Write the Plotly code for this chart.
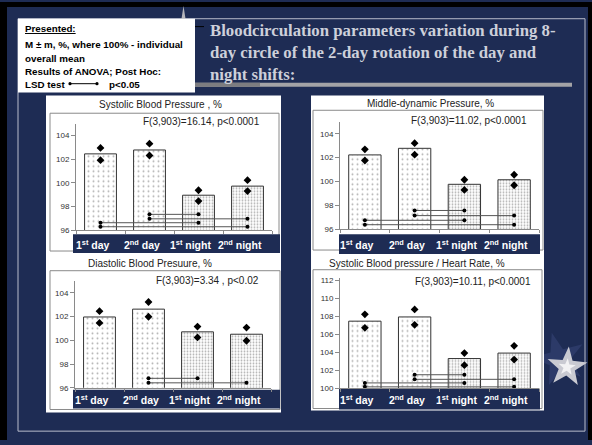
import math
import plotly.graph_objects as go

W, H = 592, 445


def px(x):
    return x / W


def py(y):
    return 1 - y / H


categories = ["1st day", "2nd day", "1st night", "2nd night"]
cat_labels = ["1<sup>st</sup> day", "2<sup>nd</sup> day", "1<sup>st</sup> night", "2<sup>nd</sup> night"]

# Systolic Blood Pressure, %
sbp_mean = [102.45, 102.78, 98.95, 99.72]
sbp_hi = [102.95, 103.31, 99.37, 100.22]
sbp_lo = [101.92, 102.31, 98.45, 99.30]
sbp_sig_from = [1, 1, 0, 0]
sbp_sig_to = [2, 3, 2, 3]
sbp_sig_level = [97.33, 96.95, 96.62, 96.28]

# Middle-dynamic Pressure, %
mdp_mean = [102.23, 102.78, 99.77, 100.15]
mdp_hi = [102.70, 103.21, 100.15, 100.57]
mdp_lo = [101.76, 102.25, 99.30, 99.69]
mdp_sig_from = [1, 1, 0, 0]
mdp_sig_to = [2, 3, 2, 3]
mdp_sig_level = [97.58, 97.15, 96.76, 96.39]

# Diastolic Blood Pressure, %
dbp_mean = [101.96, 102.62, 100.71, 100.51]
dbp_hi = [102.45, 103.22, 101.15, 101.07]
dbp_lo = [101.46, 101.98, 100.24, 99.96]
dbp_sig_from = [1, 1]
dbp_sig_to = [2, 3]
dbp_sig_level = [96.80, 96.42]

# Systolic Blood pressure / Heart Rate, %
shr_mean = [107.45, 107.92, 103.29, 103.90]
shr_hi = [108.21, 108.76, 103.90, 104.71]
shr_lo = [106.71, 107.04, 102.55, 103.18]
shr_sig_from = [1, 1, 0, 0]
shr_sig_to = [2, 3, 2, 3]
shr_sig_level = [101.49, 100.98, 100.58, 100.14]

panels = [
    dict(title="Systolic Blood Pressure , %", ftext="F(3,903)=16.14, p<0.0001",
         mean=sbp_mean, hi=sbp_hi, lo=sbp_lo,
         sf=sbp_sig_from, st=sbp_sig_to, sl=sbp_sig_level,
         rng=[96, 105], ticks=[96, 98, 100, 102, 104],
         plot=(76, 123.7, 272, 231.7), title_xy=(160, 104), f_xy=(262, 121),
         frame=(50, 113, 279, 253), band=(73, 236, 280, 255), label_y=246),
    dict(title="Middle-dynamic Pressure, %", ftext="F(3,903)=11.02, p<0.0001",
         mean=mdp_mean, hi=mdp_hi, lo=mdp_lo,
         sf=mdp_sig_from, st=mdp_sig_to, sl=mdp_sig_level,
         rng=[96, 105], ticks=[96, 98, 100, 102, 104],
         plot=(340, 121.7, 539, 231), title_xy=(430, 103), f_xy=(529, 120),
         frame=(313, 110, 543, 252), band=(339, 236, 540, 256), label_y=246),
    dict(title="Diastolic Blood Presuure, %", ftext="F(3,903)=3.34 , p<0.02",
         mean=dbp_mean, hi=dbp_hi, lo=dbp_lo,
         sf=dbp_sig_from, st=dbp_sig_to, sl=dbp_sig_level,
         rng=[96, 105], ticks=[96, 98, 100, 102, 104],
         plot=(75, 283.3, 271, 392), title_xy=(150, 266), f_xy=(261, 283),
         frame=(50, 273, 280, 414), band=(73, 394, 280, 413), label_y=404),
    dict(title="Systolic Blood pressure / Heart Rate, %", ftext="F(3,903)=10.11, p<0.0001",
         mean=shr_mean, hi=shr_hi, lo=shr_lo,
         sf=shr_sig_from, st=shr_sig_to, sl=shr_sig_level,
         rng=[100, 112.2], ticks=[100, 102, 104, 106, 108, 110, 112],
         plot=(340, 280.9, 539, 392.3), title_xy=(417, 266), f_xy=(533, 284),
         frame=(313, 272, 542, 413), band=(339, 393, 540, 414), label_y=404),
]

NAVY = "#1e2c54"
FONT = "Liberation Sans"

fig = go.Figure()
shapes = []
annotations = []


def rect(x0, y0, x1, y1, fill=None, line=None, lw=1, layer="below"):
    d = dict(type="rect", xref="paper", yref="paper",
             x0=px(x0), x1=px(x1), y0=py(y1), y1=py(y0), layer=layer,
             line=dict(width=lw if line else 0, color=line or "rgba(0,0,0,0)"))
    if fill:
        d["fillcolor"] = fill
    return d


def star_path(cx, cy, r_out, r_in, rot):
    pts = []
    for k in range(10):
        r = r_out if k % 2 == 0 else r_in
        a = math.radians(90 + rot + k * 36)
        pts.append((px(cx + r * math.cos(a)), py(cy - r * math.sin(a))))
    return "M " + " L ".join(f"{x:.5f},{y:.5f}" for x, y in pts) + " Z"


# slide decoration
shapes.append(rect(0, 0, 592, 5, fill="black"))
shapes.append(rect(0, 0, 7, 445, fill="black"))
shapes.append(rect(588, 0, 592, 445, fill="black"))
shapes.append(rect(18, 17, 585, 436, line="#b8bccb"))
shapes.append(rect(195, 82, 572, 86, fill="#a3a3a6"))
shapes.append(rect(195, 82, 260, 86, fill="#7c7c80"))
shapes.append(dict(type="path", xref="paper", yref="paper", layer="below",
                   path=f"M {px(183.5)},{py(4)} L {px(186)},{py(20)} L {px(181)},{py(20)} Z",
                   fillcolor="#b4b4ba", line=dict(width=0)))
shapes.append(dict(type="path", xref="paper", yref="paper", layer="below",
                   path=star_path(559, 363, 28, 11, 15), fillcolor="#2c3a68", line=dict(width=0)))
shapes.append(dict(type="path", xref="paper", yref="paper", layer="below",
                   path=star_path(567, 371, 21, 8.5, -5), fillcolor="#c9cad2", line=dict(width=0)))
shapes.append(dict(type="path", xref="paper", yref="paper", layer="below",
                   path=star_path(567, 371, 9, 3.6, -5), fillcolor="#f2f2f4", line=dict(width=0)))

# legend box
shapes.append(rect(18, 17, 195, 92, fill="white"))
shapes.append(dict(type="line", xref="paper", yref="paper", layer="below",
                   x0=px(195), x1=px(204), y0=py(25), y1=py(25), line=dict(color="black", width=1)))
legend_lines = [("<u>Presented:</u>", 27), ("M ± m, %, where 100% - individual", 43),
                ("overall mean", 57), ("Results of ANOVA; Post Hoc:", 71), ("LSD test", 84)]
for txt, yy in legend_lines:
    annotations.append(dict(text="<b>" + txt + "</b>", xref="paper", yref="paper",
                            x=px(23), y=py(yy), xanchor="left", yanchor="middle", showarrow=False,
                            font=dict(family=FONT, size=9.8, color="black")))
annotations.append(dict(text="<b>p<0.05</b>", xref="paper", yref="paper",
                        x=px(107), y=py(84), xanchor="left", yanchor="middle", showarrow=False,
                        font=dict(family=FONT, size=9.8, color="black")))
shapes.append(dict(type="line", xref="paper", yref="paper", x0=px(70), x1=px(97),
                   y0=py(83), y1=py(83), line=dict(color="black", width=1)))
for cx in (70, 97):
    shapes.append(dict(type="circle", xref="paper", yref="paper", x0=px(cx - 1.6), x1=px(cx + 1.6),
                       y0=py(83 + 1.6), y1=py(83 - 1.6), fillcolor="black", line=dict(width=0)))

# title
annotations.append(dict(
    text="<b>Bloodcirculation parameters variation during 8-<br>day circle of the 2-day rotation of the day and<br>night shifts:</b>",
    xref="paper", yref="paper", x=px(208), y=py(17), xanchor="left", yanchor="top", align="left",
    showarrow=False, font=dict(family="Liberation Serif", size=16.8, color="#cdd0da")))

# white panels
shapes.append(rect(46, 95, 281, 417, fill="white"))
shapes.append(rect(311, 95, 544, 415, fill="white"))

layout_axes = {}
for i, p in enumerate(panels):
    n = i + 1
    xa = "x" if n == 1 else f"x{n}"
    ya = "y" if n == 1 else f"y{n}"
    x0, y0, x1, y1 = p["plot"]

    shapes.append(rect(*p["frame"], line="#8a8a8a"))
    shapes.append(rect(*p["band"], fill=NAVY))

    fig.add_trace(go.Bar(
        x=categories, y=p["mean"], xaxis=xa, yaxis=ya, width=0.65,
        marker=dict(color="white", line=dict(color="#333333", width=1),
                    pattern=dict(shape=".", fgcolor="#666666", bgcolor="white",
                                 size=[5, 5, 3, 3], solidity=[0.12, 0.12, 0.3, 0.3])),
        showlegend=False, hoverinfo="skip"))

    sx, sy = [], []
    for a, b, lev in zip(p["sf"], p["st"], p["sl"]):
        sx += [categories[a], categories[b], None]
        sy += [lev, lev, None]
    fig.add_trace(go.Scatter(
        x=sx, y=sy, xaxis=xa, yaxis=ya, mode="lines+markers",
        line=dict(color="#555555", width=1),
        marker=dict(symbol="circle", size=4, color="black"),
        showlegend=False, hoverinfo="skip", cliponaxis=False))

    fig.add_trace(go.Scatter(
        x=categories + categories, y=p["hi"] + p["lo"], xaxis=xa, yaxis=ya, mode="markers",
        marker=dict(symbol="diamond", size=6, color="black"),
        showlegend=False, hoverinfo="skip", cliponaxis=False))

    layout_axes["xaxis" if n == 1 else f"xaxis{n}"] = dict(
        domain=[px(x0), px(x1)], anchor=ya, type="category", range=[-0.5, 3.5],
        showline=True, linecolor="#8a8a8a", linewidth=1,
        ticks="outside", tickson="boundaries", ticklen=3, tickcolor="#8a8a8a",
        showticklabels=False, showgrid=False, zeroline=False, fixedrange=True)
    layout_axes["yaxis" if n == 1 else f"yaxis{n}"] = dict(
        domain=[py(y1), py(y0)], anchor=xa, range=p["rng"], tickvals=p["ticks"],
        showline=True, linecolor="#8a8a8a", linewidth=1,
        ticks="outside", ticklen=4, tickcolor="#8a8a8a",
        tickfont=dict(family=FONT, size=8, color="#333333"),
        showgrid=False, zeroline=False, fixedrange=True)

    annotations.append(dict(text=p["title"], xref="paper", yref="paper",
                            x=px(p["title_xy"][0]), y=py(p["title_xy"][1]),
                            xanchor="center", yanchor="middle", showarrow=False,
                            font=dict(family=FONT, size=10, color="#222222")))
    annotations.append(dict(text=p["ftext"], xref="paper", yref="paper",
                            x=px(p["f_xy"][0]), y=py(p["f_xy"][1]),
                            xanchor="right", yanchor="middle", showarrow=False,
                            font=dict(family=FONT, size=10, color="#222222")))
    for c, lab in zip(categories, cat_labels):
        annotations.append(dict(text="<b>" + lab + "</b>", xref=xa, yref="paper",
                                x=c, y=py(p["label_y"]), xshift=-8,
                                xanchor="center", yanchor="middle", showarrow=False,
                                font=dict(family=FONT, size=10.5, color="white")))

fig.update_layout(
    width=W, height=H, autosize=False,
    margin=dict(l=0, r=0, t=0, b=0, pad=0),
    paper_bgcolor=NAVY, plot_bgcolor="rgba(0,0,0,0)",
    shapes=shapes, annotations=annotations, bargap=0.35,
    **layout_axes)

fig.write_html(
    "out.html",
    config={"displayModeBar": False, "staticPlot": True},
    post_script=("document.body.style.margin='0';document.body.style.overflow='hidden';"
                 "document.body.style.background='" + NAVY + "';"
                 "document.documentElement.style.background='" + NAVY + "';"))
